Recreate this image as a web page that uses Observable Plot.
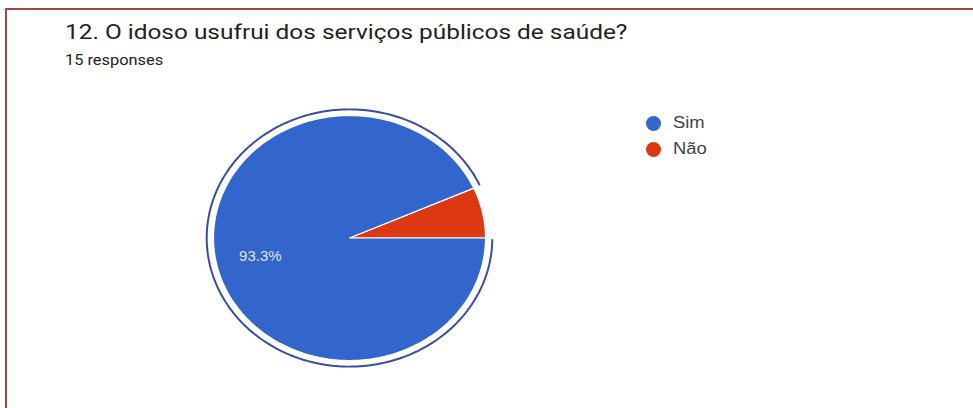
<!DOCTYPE html>
<html>
<head>
<meta charset="utf-8">
<script src="https://cdn.jsdelivr.net/npm/d3@7"></script>
<script src="https://cdn.jsdelivr.net/npm/@observablehq/plot@0.6"></script>
<style>
  html, body { margin: 0; padding: 0; background: #fff; }
  body { width: 973px; height: 408px; position: relative; overflow: hidden; font-family: Roboto, "Liberation Sans", sans-serif; }
  .frame { position: absolute; left: 5px; top: 8px; width: 1100px; height: 600px;
           border-left: 2px solid #a34543; border-top: 2px solid #a34543; box-sizing: border-box; }
  .title { position: absolute; left: 65px; top: 20px; font-size: 20px; color: #222; transform: scaleX(1.22); transform-origin: left top; white-space: nowrap; }
  .sub { position: absolute; left: 65px; top: 52px; font-size: 14px; color: #222; transform: scaleX(1.17); transform-origin: left top; white-space: nowrap; }
  .legend { position: absolute; left: 646px; top: 110px; font-family: Arial, "Liberation Sans", sans-serif; font-size: 16px; color: #444; }
  .legend .item { display: flex; align-items: center; height: 26px; }
  .legend .sw { width: 15px; height: 15px; border-radius: 50%; margin-right: 12px; }
  .legend .lab { display: inline-block; transform: scaleX(1.15); transform-origin: left center; }
  #chart { position: absolute; left: 0; top: 78px; }
</style>
</head>
<body>
<div class="frame"></div>
<div class="title" id="title"></div>
<div class="sub" id="sub"></div>
<div class="legend" id="legend"></div>
<div id="chart"></div>
<script>
const titleText = "12. O idoso usufrui dos serviços públicos de saúde?";
const subtitleText = "15 responses";
const categories = ["Sim", "Não"];
const counts = [14, 1];
const colors = ["#3366cc", "#dc3912"];
const highlighted = "Sim";

document.getElementById("title").textContent = titleText;
document.getElementById("sub").textContent = subtitleText;
const leg = document.getElementById("legend");
categories.forEach((c, i) => {
  const it = document.createElement("div"); it.className = "item";
  const sw = document.createElement("div"); sw.className = "sw"; sw.style.background = colors[i];
  const lb = document.createElement("span"); lb.className = "lab"; lb.textContent = c;
  it.appendChild(sw); it.appendChild(lb); leg.appendChild(it);
});

const total = d3.sum(counts);
// Não starts at 3 o'clock going counterclockwise, then Sim.
const order = [1, 0];
let start = 0;
const slices = [];
for (const idx of order) {
  const span = counts[idx] / total * 2 * Math.PI;
  slices.push({cat: categories[idx], a0: start, a1: start + span, value: counts[idx]});
  start += span;
}
const N = 240;
const wedgePts = [];
for (const s of slices) {
  wedgePts.push({cat: s.cat, x: 0, y: 0});
  const n = Math.max(4, Math.round(N * (s.a1 - s.a0) / (2 * Math.PI)));
  for (let k = 0; k <= n; k++) {
    const a = s.a0 + (s.a1 - s.a0) * k / n;
    wedgePts.push({cat: s.cat, x: Math.cos(a), y: Math.sin(a)});
  }
  wedgePts.push({cat: s.cat, x: 0, y: 0});
}
const hs = slices.find(s => s.cat === highlighted);
const ringR = 1.05;
const ringPts = [];
{
  const a0 = hs.a0 + 0.01, a1 = hs.a1 - 0.015;
  const n = 240;
  for (let k = 0; k <= n; k++) {
    const a = a0 + (a1 - a0) * k / n;
    ringPts.push({x: ringR * Math.cos(a), y: ringR * Math.sin(a)});
  }
}
const labels = slices.filter(s => s.value / total > 0.1).map(s => {
  const m = (s.a0 + s.a1) / 2;
  return {x: 0.67 * Math.cos(m), y: 0.67 * Math.sin(m), text: (s.value / total * 100).toFixed(1) + "%"};
});

const chart = Plot.plot({
  width: 973,
  height: 330,
  margin: 0,
  x: {domain: [-1, 1], range: [213, 485], axis: null},
  y: {domain: [-1, 1], range: [282, 37], axis: null},
  color: {domain: categories, range: colors},
  marks: [
    Plot.line(wedgePts, {x: "x", y: "y", fill: "cat", stroke: "white", strokeWidth: 1.2, curve: "linear"}),
    Plot.line(ringPts, {x: "x", y: "y", stroke: "#3a4ca6", strokeWidth: 2, curve: "linear"}),
    Plot.text(labels, {x: "x", y: "y", dy: 1, text: "text", fill: "white", fillOpacity: 0.85, fontSize: 15, fontFamily: "Arial, 'Liberation Sans', sans-serif", textAnchor: "middle"})
  ]
});
chart.style.background = "transparent";
document.getElementById("chart").appendChild(chart);
</script>
</body>
</html>
